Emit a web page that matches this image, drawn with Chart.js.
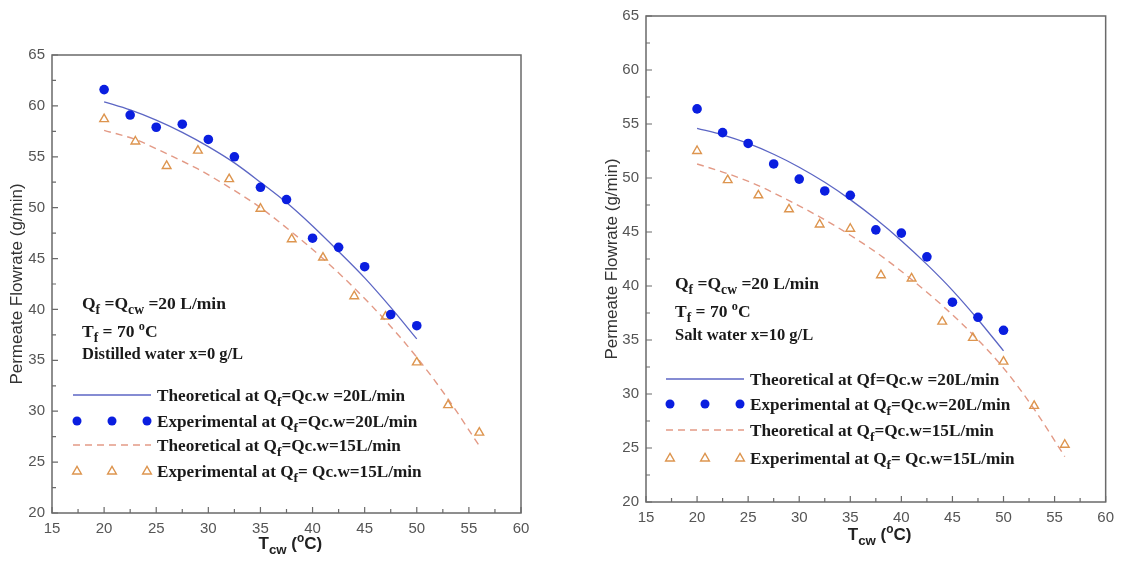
<!DOCTYPE html>
<html>
<head>
<meta charset="utf-8">
<script src="https://cdn.jsdelivr.net/npm/chart.js@4/dist/chart.umd.min.js"></script>
<style>
  body { margin: 0; background: #fff; width: 1121px; height: 561px; overflow: hidden; }
  .panel { position: absolute; top: 0; height: 561px; }
</style>
</head>
<body>
<div class="panel" style="left:0;width:560px"><canvas id="left"></canvas></div>
<div class="panel" style="left:580px;width:541px"><canvas id="right"></canvas></div>
<script>
// cooling water temperatures
var tempExp20 = [20, 22.5, 25, 27.5, 30, 32.5, 35, 37.5, 40, 42.5, 45, 47.5, 50];
var tempExp15 = [20, 23, 26, 29, 32, 35, 38, 41, 44, 47, 50, 53, 56];

// distilled water (left)
var distTheo20 = [60.4, 59.6, 58.6, 57.4, 56.0, 54.4, 52.5, 50.5, 48.2, 45.7, 43.1, 40.2, 37.1];
var distExp20  = [61.6, 59.1, 57.9, 58.2, 56.7, 55.0, 52.0, 50.8, 47.0, 46.1, 44.2, 39.5, 38.4];
var distTheo15 = [57.6, 56.7, 55.3, 53.8, 52.0, 50.0, 47.6, 45.0, 42.1, 38.9, 35.3, 31.2, 26.6];
var distExp15  = [58.7, 56.5, 54.1, 55.6, 52.8, 49.9, 46.9, 45.1, 41.3, 39.3, 34.8, 30.6, 27.9];

// salt water (right)
var saltTheo20 = [54.6, 54.0, 53.2, 52.2, 51.0, 49.6, 48.0, 46.2, 44.2, 42.0, 39.6, 36.9, 34.0];
var saltExp20  = [56.4, 54.2, 53.2, 51.3, 49.9, 48.8, 48.4, 45.2, 44.9, 42.7, 38.5, 37.1, 35.9];
var saltTheo15 = [51.3, 50.4, 49.3, 47.9, 46.4, 44.7, 42.8, 40.6, 38.2, 35.5, 32.4, 28.6, 24.2];
var saltExp15  = [52.5, 49.8, 48.4, 47.1, 45.7, 45.3, 41.0, 40.7, 36.7, 35.2, 33.0, 28.9, 25.3];

var legendLeft = ["Theoretical at Q_{f}=Qc.w =20L/min", "Experimental at Q_{f}=Qc.w=20L/min",
                  "Theoretical at Q_{f}=Qc.w=15L/min", "Experimental at Q_{f}= Qc.w=15L/min"];
var legendRight = ["Theoretical at Qf=Qc.w =20L/min", "Experimental at Q_{f}=Qc.w=20L/min",
                   "Theoretical at Q_{f}=Qc.w=15L/min", "Experimental at Q_{f}= Qc.w=15L/min"];
var noteLeft = ["Q_{f} =Q_{cw} =20 L/min", "T_{f} = 70 ^{o}C", "Distilled water x=0 g/L"];
var noteRight = ["Q_{f} =Q_{cw} =20 L/min", "T_{f} = 70 ^{o}C", "Salt water x=10 g/L"];

var BLUE_LINE = '#5c66c4', BLUE_DOT = '#0a1ee0', ORANGE_LINE = '#e39a86', ORANGE_TRI = '#dd954f';
var SERIF = '"Liberation Serif", "Times New Roman", serif';
var SANS = '"Liberation Sans", Arial, sans-serif';

function pts(xs, ys) {
  return xs.map(function(x, i){ return {x: x, y: ys[i]}; });
}

// draw text with _{sub} and ^{sup}
function drawRich(ctx, str, x, y, size, weight, family) {
  var parts = str.split(/(_\{[^}]*\}|\^\{[^}]*\})/);
  parts.forEach(function(p){
    if (!p) return;
    var s = size, dy = 0, t = p;
    if (p[0] == '_') { t = p.slice(2, -1); s = size * 0.78; dy = size * 0.3; }
    else if (p[0] == '^') { t = p.slice(2, -1); s = size * 0.7; dy = -size * 0.42; }
    ctx.font = weight + ' ' + s + 'px ' + family;
    ctx.fillText(t, x, y + dy);
    x += ctx.measureText(t).width;
  });
  return x;
}

function triangle(ctx, x, y, r) {
  ctx.beginPath();
  ctx.moveTo(x, y - r);
  ctx.lineTo(x + r * 0.95, y + r * 0.65);
  ctx.lineTo(x - r * 0.95, y + r * 0.65);
  ctx.closePath();
  ctx.stroke();
}

var decor = {
  id: 'decor',
  afterDraw: function(chart) {
    var c = chart.ctx, a = chart.chartArea, o = chart.options.plugins.decor;
    var xs = chart.scales.x, ys = chart.scales.y;
    c.save();
    // frame
    c.strokeStyle = '#6a6a6a';
    c.lineWidth = 1.5;
    c.strokeRect(a.left, a.top, a.right - a.left, a.bottom - a.top);
    // inward ticks, major and minor
    c.lineWidth = 1.2;
    c.beginPath();
    for (var v = 15; v <= 60; v += 2.5) {
      var px = xs.getPixelForValue(v), len = (v % 5 == 0) ? 6 : 4;
      c.moveTo(px, a.bottom); c.lineTo(px, a.bottom - len);
    }
    for (var w = 20; w <= 65; w += 2.5) {
      var py = ys.getPixelForValue(w), l2 = (w % 5 == 0) ? 6 : 4;
      c.moveTo(a.left, py); c.lineTo(a.left + l2, py);
    }
    c.stroke();

    // axis titles
    c.fillStyle = '#333';
    c.textAlign = 'center';
    c.textBaseline = 'middle';
    c.save();
    c.translate(o.yTitleX, (a.top + a.bottom) / 2 + o.yTitleDy);
    c.rotate(-Math.PI / 2);
    c.font = '17px ' + SANS;
    c.fillText('Permeate Flowrate (g/min)', 0, 0);
    c.restore();
    c.textAlign = 'left';
    c.textBaseline = 'alphabetic';
    c.fillStyle = '#222';
    drawRich(c, 'T_{cw} (^{o}C)', (a.left + a.right) / 2 - 28, o.xTitleY, 17, 'bold', SANS);

    // notes
    c.fillStyle = '#1a1a1a';
    o.notes.forEach(function(n, i){
      drawRich(c, n, a.left + o.noteX, a.top + o.noteY[i], i == 2 ? 16.5 : 17.5, 'bold', SERIF);
    });

    // legend
    var ds = chart.data.datasets;
    var lx = a.left + o.legX;
    o.legend.forEach(function(txt, i){
      var ry = a.top + o.legY[i];
      var d = ds[i];
      c.save();
      if (i == 0 || i == 2) {
        c.strokeStyle = d.borderColor;
        c.lineWidth = d.borderWidth;
        c.setLineDash(d.borderDash || []);
        c.beginPath(); c.moveTo(lx - 4, ry); c.lineTo(lx + 74, ry); c.stroke();
      } else {
        for (var k = 0; k < 3; k++) {
          var mx = lx + k * 35;
          if (i == 1) {
            c.fillStyle = d.backgroundColor;
            c.beginPath(); c.arc(mx, ry, 4.5, 0, Math.PI * 2); c.fill();
          } else {
            c.strokeStyle = d.borderColor;
            c.lineWidth = d.borderWidth;
            triangle(c, mx, ry, 4.6);
          }
        }
      }
      c.restore();
      c.fillStyle = '#1a1a1a';
      drawRich(c, txt, lx + 80, ry + 5.5, 17.2, 'bold', SERIF);
    });
    c.restore();
  }
};

function makeChart(id, t20, e20, t15, e15, cfg) {
  new Chart(document.getElementById(id), {
    type: 'scatter',
    data: {
      datasets: [
        { data: pts(tempExp20, t20), showLine: true, borderColor: BLUE_LINE, borderWidth: 1.3,
          pointRadius: 0, tension: 0.4, cubicInterpolationMode: 'monotone', order: 2 },
        { data: pts(tempExp20, e20), backgroundColor: BLUE_DOT, borderColor: BLUE_DOT,
          pointRadius: 4.8, borderWidth: 0, order: 0 },
        { data: pts(tempExp15, t15), showLine: true, borderColor: ORANGE_LINE, borderWidth: 1.4,
          borderDash: [7, 5], pointRadius: 0, tension: 0.4, cubicInterpolationMode: 'monotone', order: 2 },
        { data: pts(tempExp15, e15), pointStyle: 'triangle', backgroundColor: 'rgba(0,0,0,0)',
          borderColor: ORANGE_TRI, borderWidth: 1.4, pointRadius: 5, order: 1 }
      ]
    },
    options: {
      responsive: true,
      maintainAspectRatio: false,
      animation: false,
      events: [],
      layout: { padding: { top: cfg.top, right: cfg.right, left: 0, bottom: 0 } },
      plugins: {
        legend: { display: false },
        tooltip: { enabled: false },
        decor: cfg
      },
      scales: {
        x: {
          min: 15, max: 60,
          grid: { display: false, drawTicks: false },
          border: { display: false },
          ticks: { stepSize: 5, padding: 7, color: '#555', font: { size: 15, family: SANS } },
          afterFit: function(s){ s.height = cfg.xh; }
        },
        y: {
          min: 20, max: 65,
          grid: { display: false, drawTicks: false },
          border: { display: false },
          ticks: { stepSize: 5, padding: 7, color: '#555', font: { size: 15, family: SANS } },
          afterFit: function(s){ s.width = cfg.yw; }
        }
      }
    },
    plugins: [decor]
  });
}

makeChart('left', distTheo20, distExp20, distTheo15, distExp15, {
  top: 55, right: 39, xh: 48, yw: 52,
  yTitleX: 17, yTitleDy: 0, xTitleY: 549,
  notes: noteLeft, noteX: 30, noteY: [254, 282, 304],
  legend: legendLeft, legX: 25, legY: [340, 366, 390, 416]
});
makeChart('right', saltTheo20, saltExp20, saltTheo15, saltExp15, {
  top: 13, right: 14, xh: 59, yw: 66,
  yTitleX: 32, yTitleDy: 0, xTitleY: 540,
  notes: noteRight, noteX: 29, noteY: [273, 301, 324],
  legend: legendRight, legX: 24, legY: [363, 388, 414, 442]
});
</script>
</body>
</html>
